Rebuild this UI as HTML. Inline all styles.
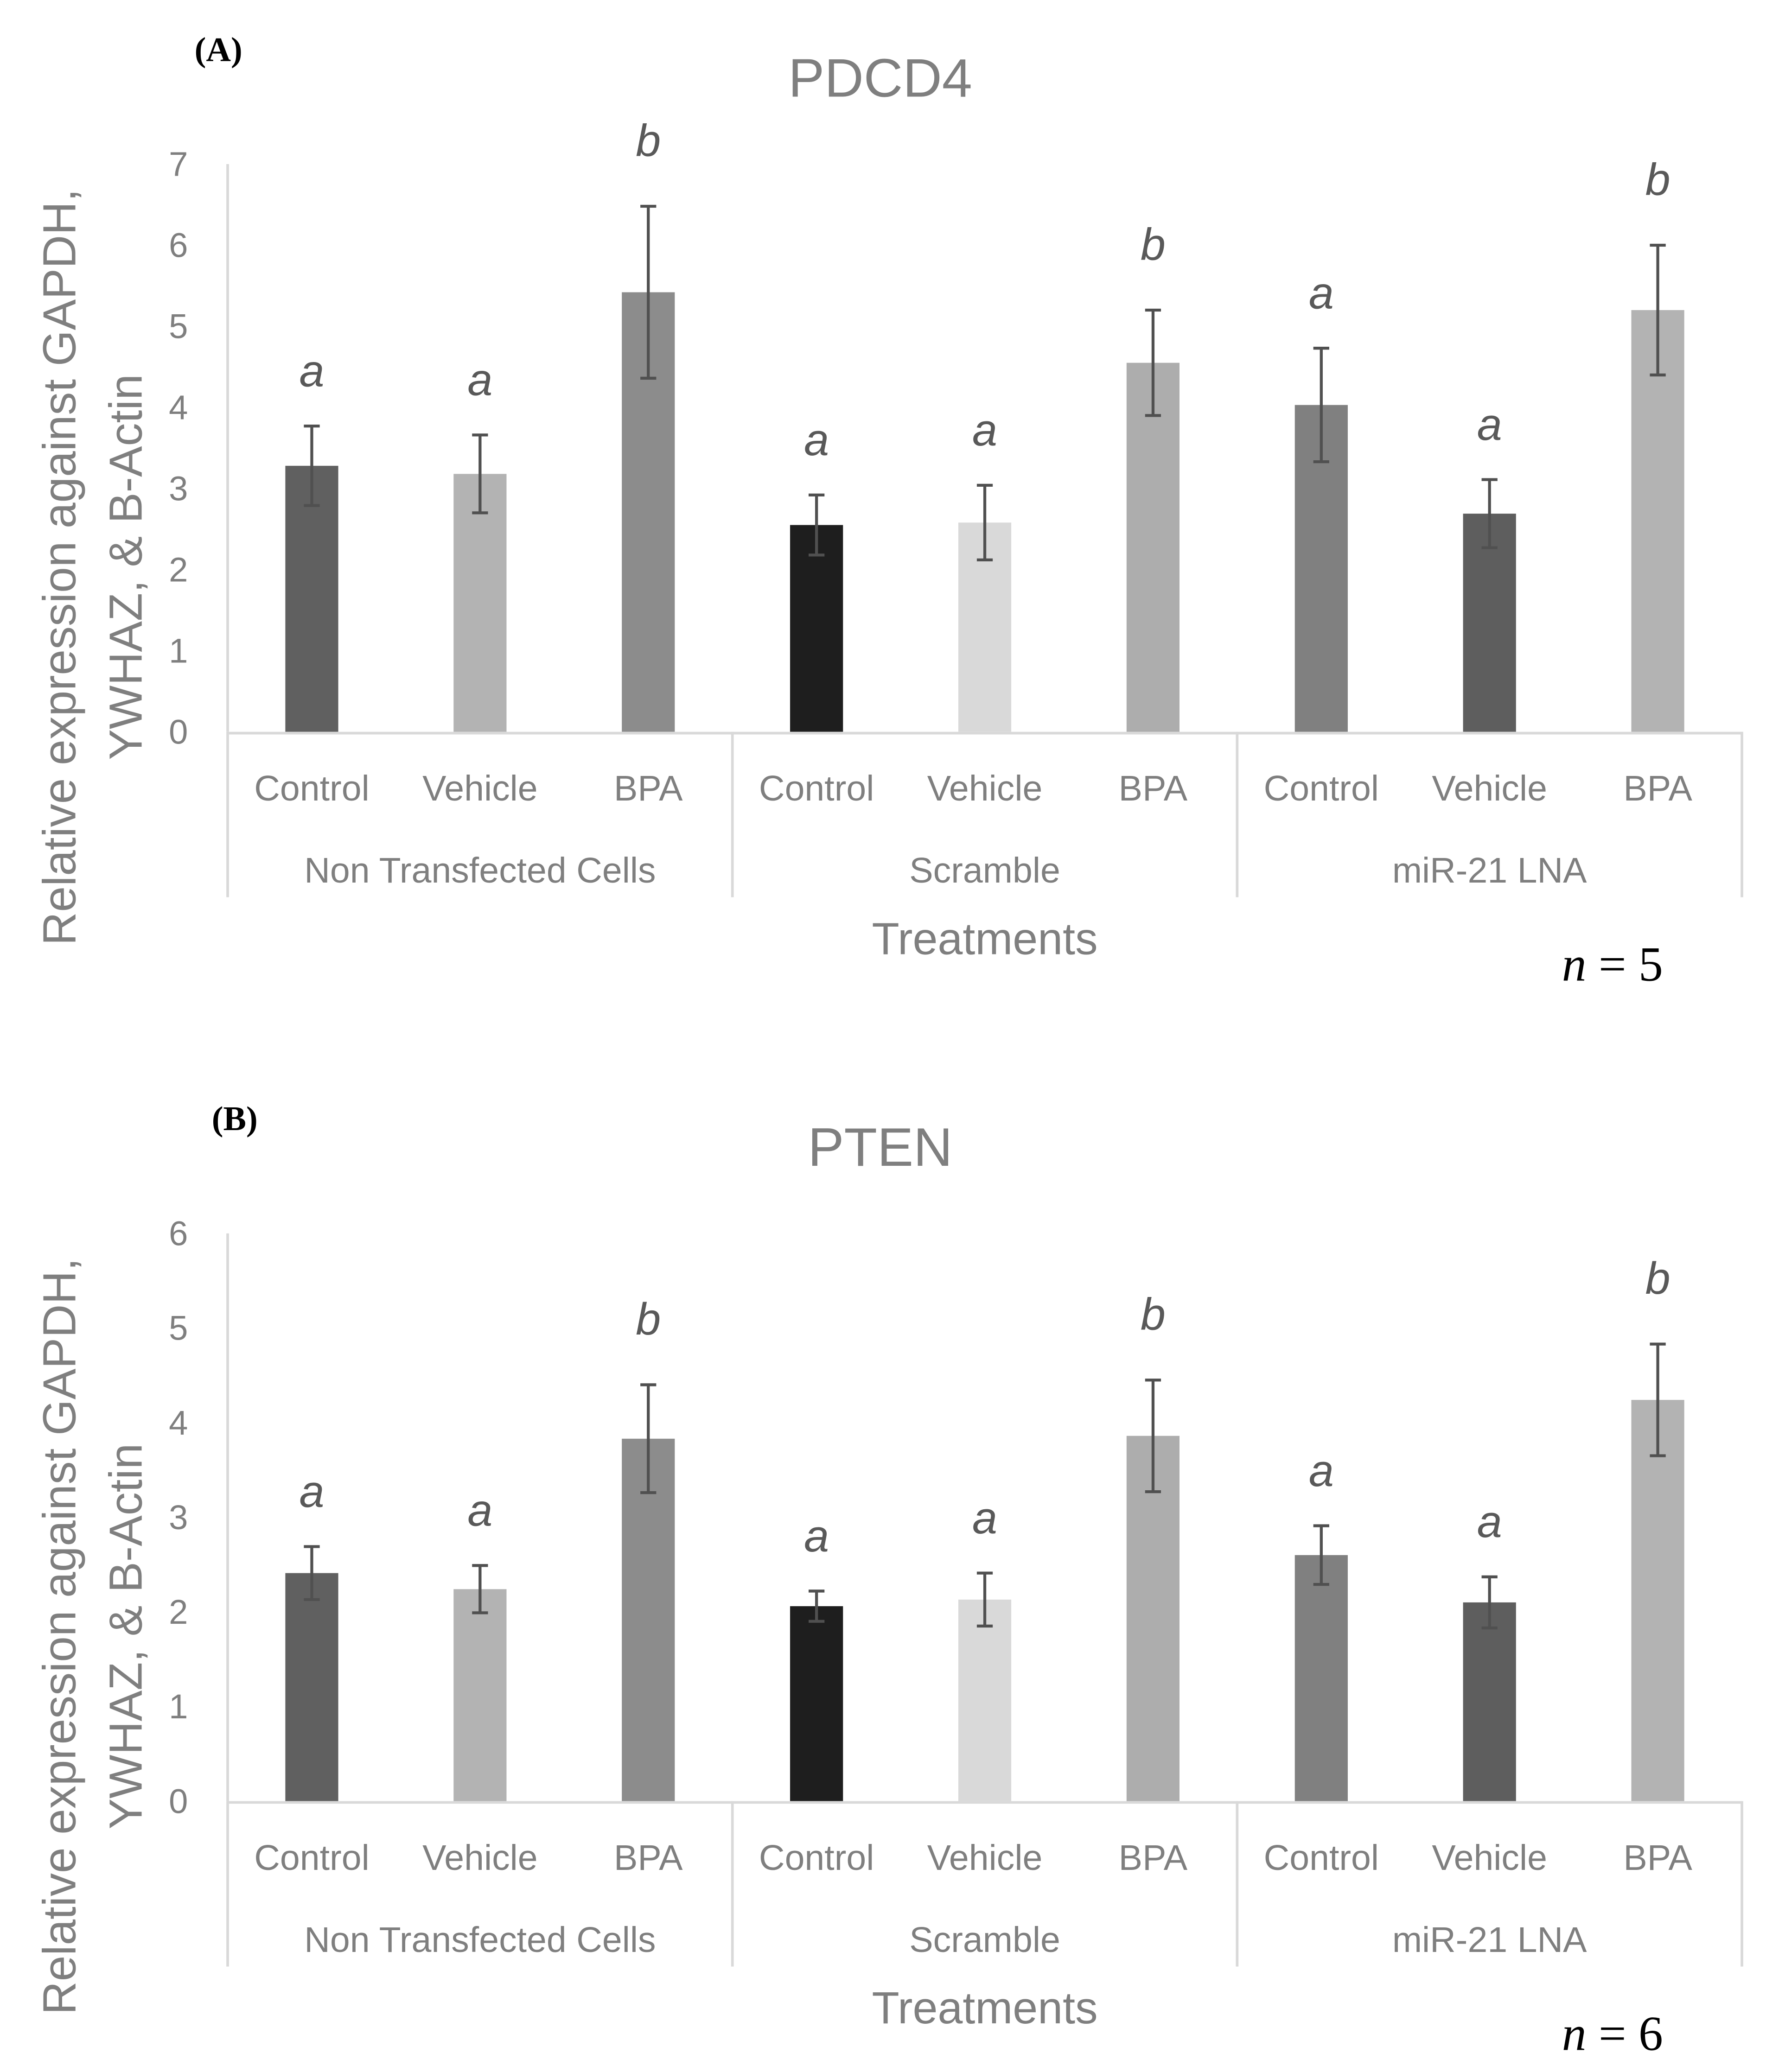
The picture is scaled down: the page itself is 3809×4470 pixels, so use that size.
<!DOCTYPE html>
<html><head><meta charset="utf-8"><style>html,body{margin:0;padding:0;background:#fff}svg{display:block}</style></head>
<body>
<svg id="fig" width="3809" height="4470" viewBox="0 0 1334.2 1565.7" preserveAspectRatio="none" xmlns="http://www.w3.org/2000/svg" font-family="Liberation Sans, sans-serif"></svg>
<script>
const categories = ["Control","Vehicle","BPA","Control","Vehicle","BPA","Control","Vehicle","BPA"];
const groups = ["Non Transfected Cells","Scramble","miR-21 LNA"];
const colors = ["#606060","#b3b3b3","#8c8c8c","#1e1e1e","#d9d9d9","#adadad","#808080","#5e5e5e","#b3b3b3"];
const pdcd4Values = [3.28,3.18,5.42,2.55,2.58,4.55,4.03,2.69,5.20];
const pdcd4Errors = [0.49,0.48,1.06,0.37,0.46,0.65,0.70,0.42,0.80];
const pdcd4Letters = ["a","a","b","a","a","b","a","a","b"];
const pdcd4Ticks = [0,1,2,3,4,5,6,7];
const ptenValues = [2.41,2.24,3.83,2.06,2.13,3.86,2.60,2.10,4.24];
const ptenErrors = [0.28,0.25,0.57,0.16,0.28,0.59,0.31,0.27,0.59];
const ptenLetters = ["a","a","b","a","a","b","a","a","b"];
const ptenTicks = [0,1,2,3,4,5,6];

const NS="http://www.w3.org/2000/svg";
const svg=document.getElementById('fig');
function mk(tag,attrs,parent,text){const e=document.createElementNS(NS,tag);for(const k in attrs)e.setAttribute(k,attrs[k]);if(text!==undefined)e.textContent=text;(parent||svg).appendChild(e);return e;}

function drawChart(prefix,off,y0,yTop,ticks,values,errors,letters,title,label,nText){
  const g=mk('g',{});
  
  
  const x0=172,x1=1316;
  const yMax=ticks[ticks.length-1];
  const yS=v=>y0-(v/yMax)*(y0-yTop);
  const step=(x1-x0)/categories.length;
  const xC=i=>x0+step*(i+0.5);
  const pl=mk('text',{x:label==='(A)'?147:160,y:off+46,'font-family':'Liberation Serif, serif','font-weight':'bold','font-size':26,fill:'#000'},g,label);
  
  
  const t=mk('text',{x:665,y:off+73,'text-anchor':'middle','font-size':41,fill:'#7f7f7f'},g,title);
  
  
  ticks.forEach(v=>{
    const tl=mk('text',{x:142,y:yS(v)+9,'text-anchor':'end','font-size':26,fill:'#7f7f7f'},g,String(v));
    
    
  });
  const cy=(yTop+y0)/2+90;
  const yt=mk('text',{transform:`translate(57,${cy}) rotate(-90)`,'text-anchor':'middle','font-size':35,fill:'#7f7f7f'},g,'Relative expression against GAPDH,');
  
  
  const yt2=mk('text',{transform:`translate(107,${cy}) rotate(-90)`,'text-anchor':'middle','font-size':35,fill:'#7f7f7f'},g,'YWHAZ, & B-Actin');
  
  
  const ya=mk('line',{x1:x0,y1:yTop,x2:x0,y2:y0,stroke:'#d9d9d9','stroke-width':2},g);
  
  
  values.forEach((v,i)=>{
    const b=mk('rect',{x:xC(i)-20,y:yS(v),width:40,height:y0-yS(v),fill:colors[i]},g);
    
    
    const eT=yS(v+errors[i]),eB=yS(v-errors[i]);
    const eb=mk('path',{d:`M${xC(i)},${eT}V${eB}M${xC(i)-6},${eT}H${xC(i)+6}M${xC(i)-6},${eB}H${xC(i)+6}`,stroke:'#505050','stroke-width':2.2,fill:'none'},g);
    
    
    const lt=mk('text',{x:xC(i),y:eT-(letters[i]==='b'?38:30),'text-anchor':'middle','font-size':34,'font-style':'italic',fill:'#595959'},g,letters[i]);
    
    
    const cl=mk('text',{x:xC(i),y:y0+52,'text-anchor':'middle','font-size':27,fill:'#7f7f7f'},g,categories[i]);
    
    
  });
  const xa=mk('line',{x1:x0,y1:y0+1,x2:x1,y2:y0+1,stroke:'#d9d9d9','stroke-width':2},g);
  
  
  for(let k=0;k<=3;k++){
    const x=x0+k*step*3;
    const sl=mk('line',{x1:x,y1:y0,x2:x,y2:y0+125,stroke:'#d9d9d9','stroke-width':2},g);
    
    
  }
  groups.forEach((gr,k)=>{
    const gl=mk('text',{x:x0+step*(3*k+1.5),y:y0+114,'text-anchor':'middle','font-size':27,fill:'#7f7f7f'},g,gr);
    
    
  });
  const xt=mk('text',{x:744,y:y0+168,'text-anchor':'middle','font-size':34,fill:'#7f7f7f'},g,'Treatments');
  
  
  const nt=mk('text',{x:1180,y:y0+188,'font-family':'Liberation Serif, serif','font-size':37,fill:'#000'},g);
  
  
  mk('tspan',{'font-style':'italic'},nt,'n');
  mk('tspan',{},nt,' = '+nText);
}
drawChart('pdcd4',0,553,124,pdcd4Ticks,pdcd4Values,pdcd4Errors,pdcd4Letters,'PDCD4','(A)','5');
drawChart('pten',808,1361,932,ptenTicks,ptenValues,ptenErrors,ptenLetters,'PTEN','(B)','6');
</script>
</body></html>
